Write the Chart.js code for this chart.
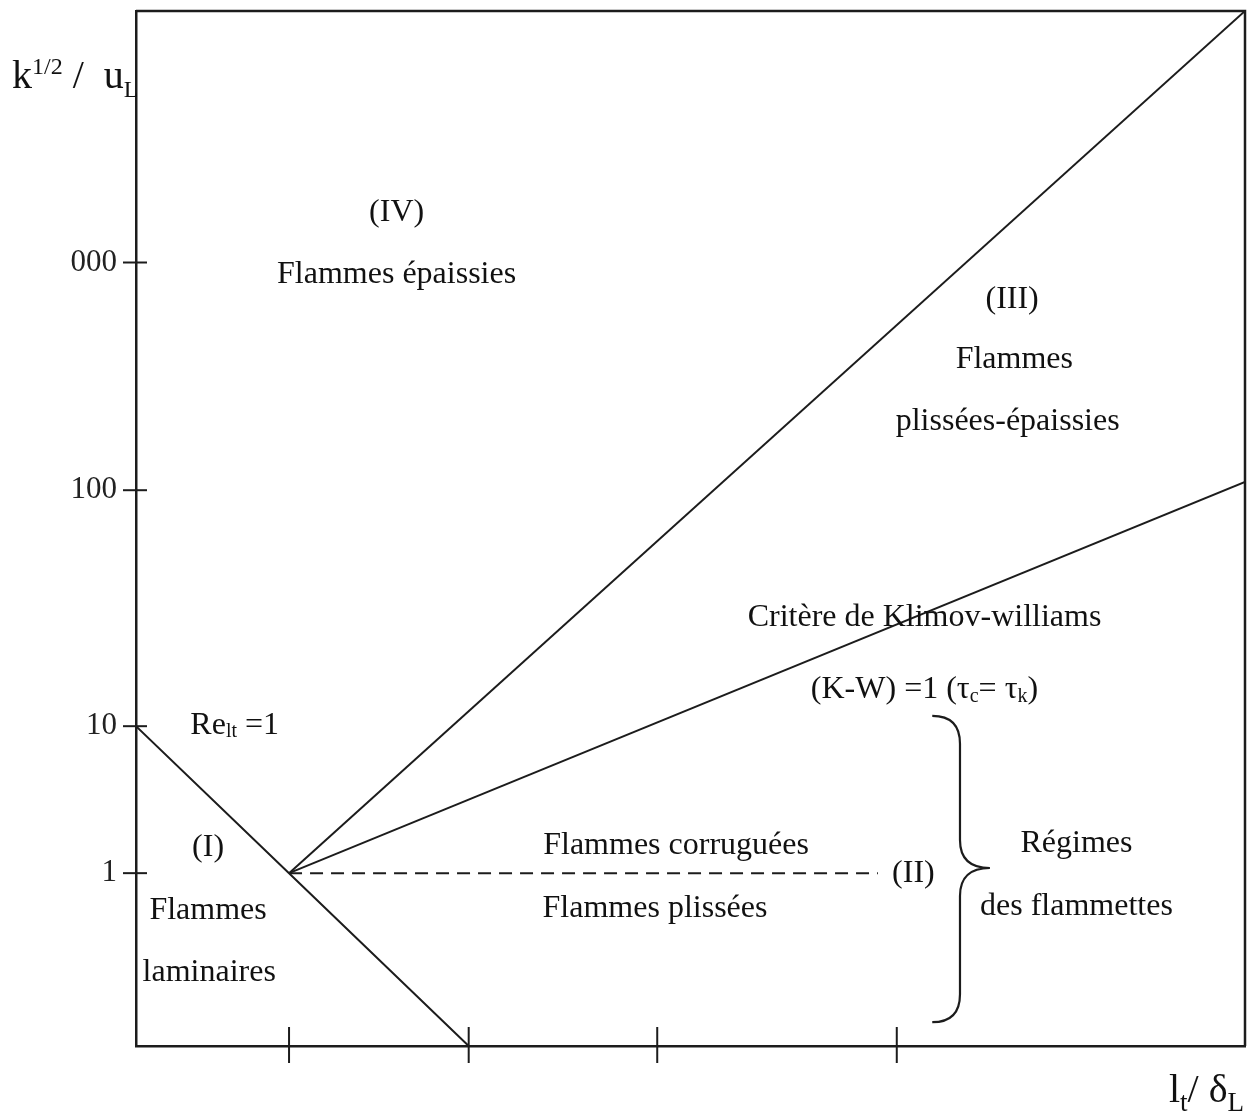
<!DOCTYPE html>
<html>
<head>
<meta charset="utf-8">
<script src="https://cdn.jsdelivr.net/npm/chart.js@4.4.1/dist/chart.umd.min.js"></script>
<style>
  html, body { margin: 0; padding: 0; background: #fff; }
  #wrap { width: 1258px; height: 1114px; position: relative; }
</style>
</head>
<body>
<div id="wrap"><canvas id="regimes"></canvas></div>
<script>
// Combustion regime diagram (k^1/2/uL vs lt/deltaL).
// Axes are in "position" units (0..100 across the frame) since the scan's decades are unevenly spaced.

const xTickPos = [13.8, 30.0, 47.0, 68.6];
const yTickPos = [16.7, 30.9, 53.7, 75.7];
const yTickLabels = ['1', '10', '100', '000'];

// Re_lt = 1 boundary
const reLineX = [0, 13.8, 30.0];
const reLineY = [30.9, 16.7, 0];
// thickened / wrinkled-thickened boundary
const thickLineX = [13.8, 100];
const thickLineY = [16.7, 100];
// Klimov-Williams criterion
const kwLineX = [13.8, 100];
const kwLineY = [16.7, 54.5];
// corrugated / wrinkled flamelets split (dashed)
const flameletX = [13.8, 66.9];
const flameletY = [16.7, 16.7];

const INK = '#1c1c1c';
const SERIF = '"Liberation Serif", "Times New Roman", serif';

function pts(xs, ys) { return xs.map((x, i) => ({ x, y: ys[i] })); }

function lineSet(xs, ys, dash) {
  return {
    data: pts(xs, ys),
    showLine: true,
    borderColor: INK,
    borderWidth: 2,
    borderDash: dash || [],
    pointRadius: 0,
    fill: false,
  };
}

// text annotations: parts are [text, mode] with mode 0 normal, 1 sup, -1 sub
const notes = [
  { parts: [['(IV)', 0]], x: 23.5, y: 80.5 },
  { parts: [['Flammes épaissies', 0]], x: 23.5, y: 74.5 },
  { parts: [['(III)', 0]], x: 79.0, y: 72.1 },
  { parts: [['Flammes', 0]], x: 79.2, y: 66.3 },
  { parts: [['plissées-épaissies', 0]], x: 78.6, y: 60.3 },
  { parts: [['Critère de Klimov-williams', 0]], x: 71.1, y: 41.4 },
  { parts: [['(K-W) =1 (τ', 0], ['c', -1], ['= τ', 0], ['k', -1], [')', 0]], x: 71.1, y: 34.4 },
  { parts: [['Re', 0], ['lt', -1], [' =1', 0]], x: 4.9, y: 31.0, align: 'left' },
  { parts: [['(I)', 0]], x: 6.5, y: 19.2 },
  { parts: [['Flammes', 0]], x: 6.5, y: 13.1 },
  { parts: [['laminaires', 0]], x: 6.6, y: 7.1 },
  { parts: [['Flammes corruguées', 0]], x: 48.7, y: 19.4 },
  { parts: [['Flammes plissées', 0]], x: 46.8, y: 13.3 },
  { parts: [['(II)', 0]], x: 70.1, y: 16.7 },
  { parts: [['Régimes', 0]], x: 84.8, y: 19.6 },
  { parts: [['des flammettes', 0]], x: 84.8, y: 13.5 },
];

// brace spanning the flamelet regimes
const brace = { x0: 71.8, xv: 74.3, xTip: 77.0, top: 31.9, tip: 17.2, bottom: 2.3 };

function drawRich(ctx, parts, x, y, size, align, ratio) {
  const small = Math.round(size * (ratio || 0.62));
  const segs = parts.map(([t, m]) => {
    ctx.font = (m === 0 ? size : small) + 'px ' + SERIF;
    return { t, m, w: ctx.measureText(t).width, f: ctx.font };
  });
  const total = segs.reduce((s, g) => s + g.w, 0);
  let cx = align === 'left' ? x : align === 'right' ? x - total : x - total / 2;
  ctx.textAlign = 'left';
  segs.forEach(g => {
    ctx.font = g.f;
    const dy = g.m === -1 ? size * 0.22 : g.m === 1 ? -size * 0.36 : 0;
    ctx.fillText(g.t, cx, y + dy);
    cx += g.w;
  });
}

const decorPlugin = {
  id: 'decor',
  afterDatasetsDraw(chart) {
    const { ctx, chartArea: a, scales: { x, y } } = chart;
    ctx.save();
    ctx.strokeStyle = INK;
    ctx.fillStyle = INK;

    // top and right of the frame
    ctx.lineWidth = 2.5;
    ctx.beginPath();
    ctx.moveTo(a.left, a.top);
    ctx.lineTo(a.right, a.top);
    ctx.lineTo(a.right, a.bottom);
    ctx.stroke();

    // tick marks crossing the axes
    ctx.lineWidth = 2;
    yTickPos.forEach(v => {
      const py = y.getPixelForValue(v);
      ctx.beginPath();
      ctx.moveTo(a.left - 13, py);
      ctx.lineTo(a.left + 11, py);
      ctx.stroke();
    });
    xTickPos.forEach(v => {
      const px = x.getPixelForValue(v);
      ctx.beginPath();
      ctx.moveTo(px, a.bottom - 19);
      ctx.lineTo(px, a.bottom + 17);
      ctx.stroke();
    });

    // brace
    const bx0 = x.getPixelForValue(brace.x0), bxv = x.getPixelForValue(brace.xv), bxt = x.getPixelForValue(brace.xTip);
    const bt = y.getPixelForValue(brace.top), bm = y.getPixelForValue(brace.tip), bb = y.getPixelForValue(brace.bottom);
    const r = 28;
    ctx.lineWidth = 2.2;
    ctx.beginPath();
    ctx.moveTo(bx0, bt);
    ctx.quadraticCurveTo(bxv, bt, bxv, bt + r);
    ctx.lineTo(bxv, bm - r);
    ctx.quadraticCurveTo(bxv, bm, bxt, bm);
    ctx.quadraticCurveTo(bxv, bm, bxv, bm + r);
    ctx.lineTo(bxv, bb - r);
    ctx.quadraticCurveTo(bxv, bb, bx0, bb);
    ctx.stroke();

    // annotations
    ctx.fillStyle = '#111';
    ctx.textBaseline = 'middle';
    notes.forEach(n => {
      drawRich(ctx, n.parts, x.getPixelForValue(n.x), y.getPixelForValue(n.y), 32, n.align || 'center');
    });

    // axis titles
    ctx.textBaseline = 'alphabetic';
    drawRich(ctx, [['k', 0], ['1/2', 1], [' /  u', 0], ['L', -1]], 12, 88, 40, 'left', 0.6);
    drawRich(ctx, [['l', 0], ['t', -1], ['/ δ', 0], ['L', -1]], 1244, 1102, 40, 'right', 0.68);
    ctx.restore();
  },
};

new Chart(document.getElementById('regimes'), {
  type: 'scatter',
  data: {
    datasets: [
      lineSet(reLineX, reLineY),
      lineSet(thickLineX, thickLineY),
      lineSet(kwLineX, kwLineY),
      lineSet(flameletX, flameletY, [13, 8]),
    ],
  },
  options: {
    responsive: true,
    maintainAspectRatio: false,
    animation: false,
    events: [],
    layout: { padding: { top: 11, right: 13, left: 0, bottom: 0 } },
    plugins: { legend: { display: false }, tooltip: { enabled: false }, title: { display: false } },
    scales: {
      x: {
        type: 'linear',
        min: 0,
        max: 100,
        grid: { display: false, drawTicks: false },
        border: { display: true, color: INK, width: 2.5 },
        afterBuildTicks: s => { s.ticks = xTickPos.map(v => ({ value: v })); },
        ticks: { display: false },
        afterFit: s => { s.height = 68; s.paddingLeft = 0; s.paddingRight = 0; },
      },
      y: {
        type: 'linear',
        min: 0,
        max: 100,
        grid: { display: false, drawTicks: false },
        border: { display: true, color: INK, width: 2.5 },
        afterBuildTicks: s => { s.ticks = yTickPos.map(v => ({ value: v })); },
        ticks: {
          color: '#222',
          padding: 19,
          font: { family: SERIF, size: 31 },
          callback: (v, i) => yTickLabels[i],
        },
        afterFit: s => { s.width = 136; s.paddingTop = 0; s.paddingBottom = 0; },
      },
    },
  },
  plugins: [decorPlugin],
});
</script>
</body>
</html>
